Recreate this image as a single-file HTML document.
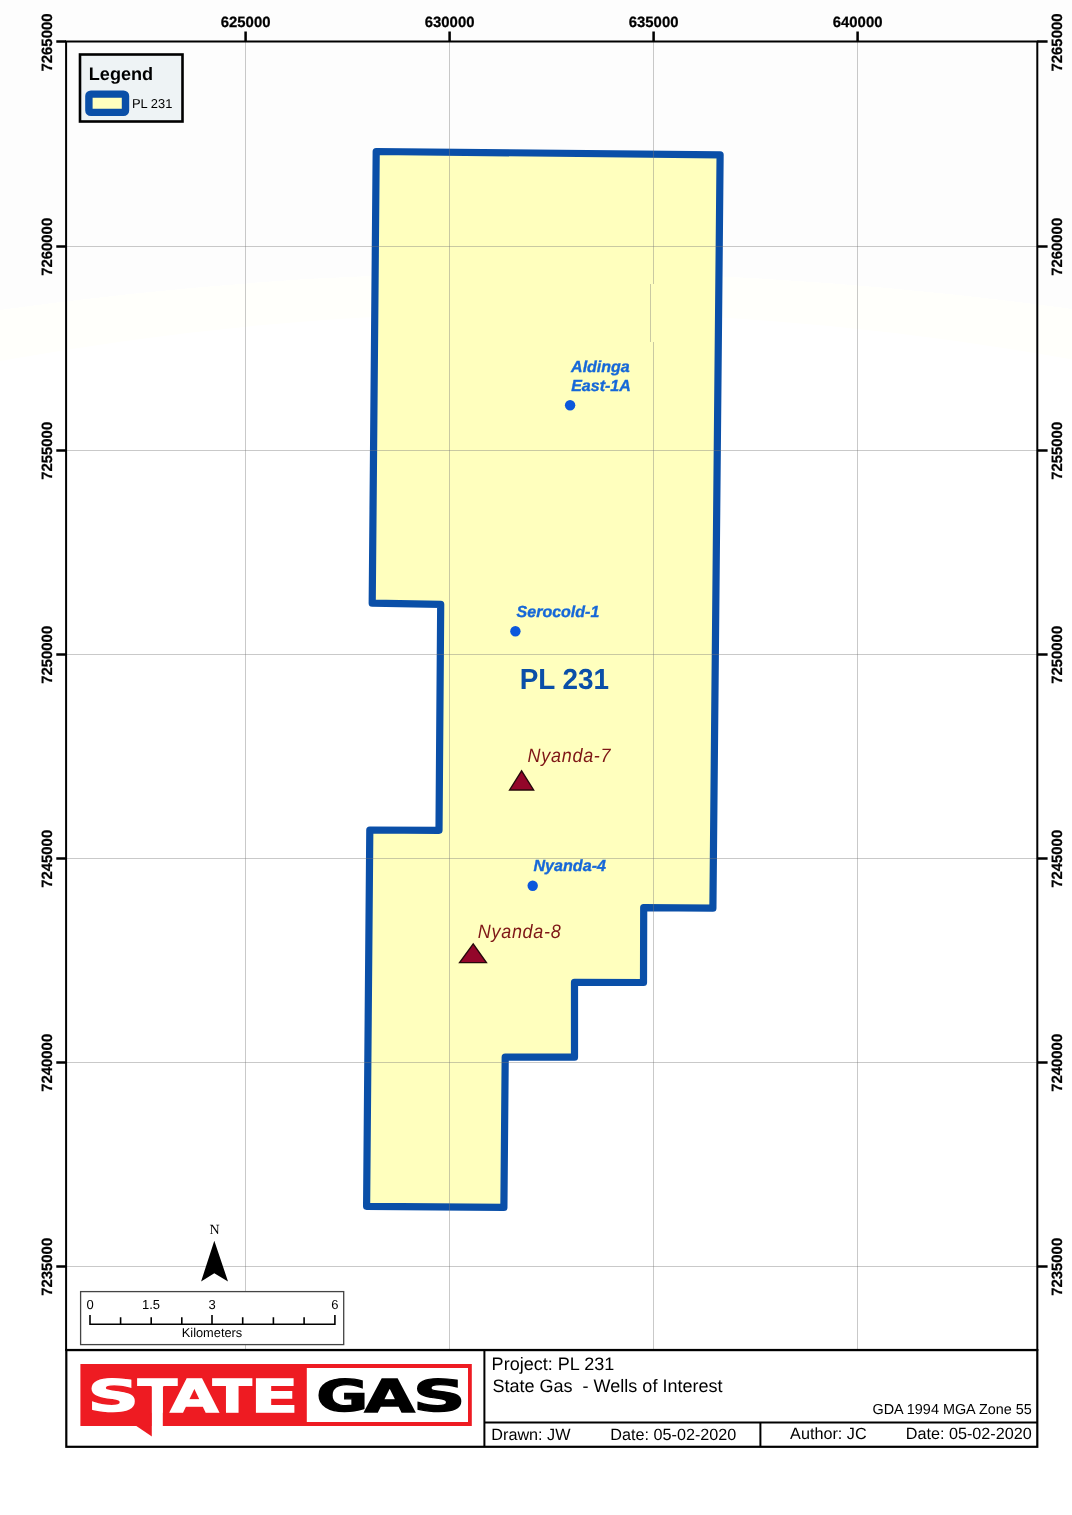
<!DOCTYPE html>
<html lang="en">
<head>
<meta charset="utf-8">
<title>PL 231 - State Gas - Wells of Interest</title>
<style>
html,body{margin:0;padding:0;background:#fff;}
body{width:1072px;height:1515px;overflow:hidden;}
svg{display:block;}
text{font-family:"Liberation Sans",Arial,Helvetica,sans-serif;text-rendering:geometricPrecision;}
.ax{font-weight:bold;stroke:#000;stroke-width:0.25px;}
.b{font-weight:bold;}
.well{font-weight:bold;font-style:italic;fill:#1668d8;stroke:#1668d8;stroke-width:0.35px;}
.nyr{font-style:italic;fill:#7e1616;}
.ser{font-family:"Liberation Serif","Times New Roman",serif;}
.lg{font-family:"DejaVu Sans","Liberation Sans",sans-serif;font-weight:bold;}
</style>
</head>
<body>
<svg width="1072" height="1515" viewBox="0 0 1072 1515">
<rect x="0" y="0" width="1072" height="1515" fill="#ffffff"/>

<!-- faint page background tint -->
<path d="M0,0 H1072 V309 Q536,235 0,310 Z" fill="#fdfdfd"/>
<path d="M0,310 Q536,235 1072,309 V359.5 Q536,264 0,361 Z" fill="#fffffb"/>
<!-- permit polygon -->
<polygon points="376.2,151.5 720.1,154.8 712.9,908.2 643.7,907.6 643.5,982.5 574.5,982.4 574.5,1057.2 505.2,1057.2 503.9,1207.4 366.6,1206.3 369.8,830 439,830.3 440.7,604.3 372.2,603.2" fill="#ffffbe" stroke="#0a4fa8" stroke-width="7.2" stroke-linejoin="round"/>
<!-- grid -->
<g stroke="#787878" stroke-opacity="0.4" stroke-width="1" fill="none" shape-rendering="crispEdges">
<line x1="245.5" y1="42" x2="245.5" y2="1349"/>
<line x1="449.5" y1="42" x2="449.5" y2="1349"/>
<path d="M653.5,42 V284 M650.5,284 V342 M653.5,342 V1349"/>
<line x1="857.5" y1="42" x2="857.5" y2="1349"/>
<line x1="67" y1="246.5" x2="1037" y2="246.5"/>
<line x1="67" y1="450.5" x2="1037" y2="450.5"/>
<line x1="67" y1="654.5" x2="1037" y2="654.5"/>
<line x1="67" y1="858.5" x2="1037" y2="858.5"/>
<line x1="67" y1="1062.5" x2="1037" y2="1062.5"/>
<line x1="67" y1="1266.5" x2="1037" y2="1266.5"/>
</g>
<!-- wells -->
<circle cx="570.1" cy="405.3" r="5.2" fill="#0c58dc"/>
<circle cx="515.4" cy="631.2" r="5.2" fill="#0c58dc"/>
<circle cx="532.7" cy="885.7" r="5.2" fill="#0c58dc"/>
<text class="well" transform="translate(571.1 372.1)" font-size="16">Aldinga</text>
<text class="well" transform="translate(571.2 390.7)" font-size="16">East-1A</text>
<text class="well" transform="translate(516.6 617)" font-size="16">Serocold-1</text>
<text class="well" transform="translate(533.5 870.8)" font-size="16.1">Nyanda-4</text>
<text class="b" transform="translate(519.7 689.4) scale(1 1.04)" font-size="27.9" style="fill:#0a4fa8">PL 231</text>
<polygon points="521.6,770.9 533.6,790 509.6,790" fill="#93062a" stroke="#26080a" stroke-width="1.4"/>
<polygon points="473.2,943.9 486.4,962.6 459.6,962.6" fill="#93062a" stroke="#26080a" stroke-width="1.4"/>
<text class="nyr" transform="translate(527.6 761.8) scale(1 1.08)" font-size="18" letter-spacing="0.7">Nyanda-7</text>
<text class="nyr" transform="translate(477.8 938.2) scale(1 1.08)" font-size="18" letter-spacing="0.7">Nyanda-8</text>
<!-- legend -->
<rect x="80" y="54.5" width="102.5" height="67" fill="#eef3f5" stroke="#000" stroke-width="2.6"/>
<text class="b" transform="translate(88.8 80)" font-size="18.1">Legend</text>
<rect x="88.9" y="94.1" width="36.6" height="18.3" rx="2" fill="#ffffbe" stroke="#0a4fa8" stroke-width="7.4" stroke-linejoin="round"/>
<text transform="translate(132 107.9)" font-size="12.9">PL 231</text>
<!-- north arrow -->
<text class="ser" transform="translate(214.5 1233.8)" font-size="14" text-anchor="middle">N</text>
<polygon points="214.3,1240.8 228,1281.4 214.3,1273.2 201.1,1281.4" fill="#000"/>
<!-- scale bar -->
<rect x="80.6" y="1291.6" width="263.1" height="53" fill="#fff" stroke="#444" stroke-width="1.3"/>
<path d="M90,1315 V1324.2 H334.9 V1315 M212,1315 V1324.2 M120.6,1317.2 V1324.2 M151.2,1317.2 V1324.2 M181.8,1317.2 V1324.2 M242.7,1317.2 V1324.2 M273.4,1317.2 V1324.2 M304.1,1317.2 V1324.2" fill="none" stroke="#000" stroke-width="1.6"/>
<text transform="translate(90 1308.8)" font-size="13" text-anchor="middle">0</text>
<text transform="translate(151 1308.8)" font-size="13" text-anchor="middle">1.5</text>
<text transform="translate(212 1308.8)" font-size="13" text-anchor="middle">3</text>
<text transform="translate(334.9 1308.8)" font-size="13" text-anchor="middle">6</text>
<text transform="translate(212 1336.5)" font-size="12.8" text-anchor="middle">Kilometers</text>
<!-- frame -->
<g fill="none" stroke="#000">
<rect x="66.1" y="41.5" width="971.2" height="1308.4" stroke-width="2"/>
<rect x="66.3" y="1350.1" width="971" height="96.7" stroke-width="2.2" fill="#fff"/>
<line x1="484.4" y1="1349.8" x2="484.4" y2="1446.8" stroke-width="2"/>
<line x1="484.6" y1="1422.6" x2="1037.3" y2="1422.6" stroke-width="2"/>
<line x1="760.4" y1="1422.6" x2="760.4" y2="1446.8" stroke-width="2"/>
</g>
<!-- ticks -->
<g stroke="#000" stroke-width="2.5" fill="none">
<path d="M245.6,31.5 V41.5 M449.6,31.5 V41.5 M653.6,31.5 V41.5 M857.6,31.5 V41.5"/>
<path d="M56.3,41.6 H66 M56.3,246.5 H66 M56.3,450.5 H66 M56.3,654.5 H66 M56.3,858.5 H66 M56.3,1062.5 H66 M56.3,1266.5 H66"/>
<path d="M1037.3,41.6 H1047.6 M1037.3,246.5 H1047.6 M1037.3,450.5 H1047.6 M1037.3,654.5 H1047.6 M1037.3,858.5 H1047.6 M1037.3,1062.5 H1047.6 M1037.3,1266.5 H1047.6"/>
</g>
<!-- axis labels -->
<text class="ax" transform="translate(245.6 27.4)" font-size="14.9" text-anchor="middle">625000</text>
<text class="ax" transform="translate(449.6 27.4)" font-size="14.9" text-anchor="middle">630000</text>
<text class="ax" transform="translate(653.6 27.4)" font-size="14.9" text-anchor="middle">635000</text>
<text class="ax" transform="translate(857.6 27.4)" font-size="14.9" text-anchor="middle">640000</text>
<text class="ax" transform="translate(51.9 42.5) rotate(-90)" font-size="14.9" text-anchor="middle">7265000</text>
<text class="ax" transform="translate(51.9 246.8) rotate(-90)" font-size="14.9" text-anchor="middle">7260000</text>
<text class="ax" transform="translate(51.9 450.8) rotate(-90)" font-size="14.9" text-anchor="middle">7255000</text>
<text class="ax" transform="translate(51.9 654.8) rotate(-90)" font-size="14.9" text-anchor="middle">7250000</text>
<text class="ax" transform="translate(51.9 858.8) rotate(-90)" font-size="14.9" text-anchor="middle">7245000</text>
<text class="ax" transform="translate(51.9 1062.8) rotate(-90)" font-size="14.9" text-anchor="middle">7240000</text>
<text class="ax" transform="translate(51.9 1266.8) rotate(-90)" font-size="14.9" text-anchor="middle">7235000</text>
<text class="ax" transform="translate(1062.1 42.5) rotate(-90)" font-size="14.9" text-anchor="middle">7265000</text>
<text class="ax" transform="translate(1062.1 246.8) rotate(-90)" font-size="14.9" text-anchor="middle">7260000</text>
<text class="ax" transform="translate(1062.1 450.8) rotate(-90)" font-size="14.9" text-anchor="middle">7255000</text>
<text class="ax" transform="translate(1062.1 654.8) rotate(-90)" font-size="14.9" text-anchor="middle">7250000</text>
<text class="ax" transform="translate(1062.1 858.8) rotate(-90)" font-size="14.9" text-anchor="middle">7245000</text>
<text class="ax" transform="translate(1062.1 1062.8) rotate(-90)" font-size="14.9" text-anchor="middle">7240000</text>
<text class="ax" transform="translate(1062.1 1266.8) rotate(-90)" font-size="14.9" text-anchor="middle">7235000</text>
<!-- logo -->
<rect x="80.4" y="1364" width="391.4" height="62" fill="#ee1b22"/>
<polygon points="135.6,1425.5 151.9,1425.5 151.9,1436.6" fill="#ee1b22"/>
<rect x="306.8" y="1368" width="161.2" height="54" fill="#fff"/>
<g stroke-linejoin="miter">
<text class="lg" transform="matrix(0.7145 0 0 0.4363 87.57 1410.98)" font-size="100" fill="#fff" stroke="#fff" stroke-width="2.87">S</text>
<text class="lg" transform="matrix(0.5775 0 0 0.4527 137.72 1411.60)" font-size="100" fill="#fff" stroke="#fff" stroke-width="3.13">T</text>
<text class="lg" transform="matrix(0.6229 0 0 0.4527 170.30 1411.60)" font-size="100" fill="#fff" stroke="#fff" stroke-width="3.01">A</text>
<text class="lg" transform="matrix(0.5715 0 0 0.4527 212.72 1411.60)" font-size="100" fill="#fff" stroke="#fff" stroke-width="3.15">T</text>
<text class="lg" transform="matrix(0.7026 0 0 0.4527 250.55 1411.60)" font-size="100" fill="#fff" stroke="#fff" stroke-width="2.84">E</text>
<text class="lg" transform="matrix(0.6339 0 0 0.4363 316.14 1410.98)" font-size="100" fill="#000" stroke="#000" stroke-width="3.04">G</text>
<text class="lg" transform="matrix(0.6504 0 0 0.4527 364.48 1411.60)" font-size="100" fill="#000" stroke="#000" stroke-width="2.95">A</text>
<text class="lg" transform="matrix(0.7354 0 0 0.4363 412.82 1410.98)" font-size="100" fill="#000" stroke="#000" stroke-width="2.82">S</text>
</g>
<rect x="149" y="1386.4" width="2.9" height="28" fill="#ee1b22"/>
<rect x="162.8" y="1386.4" width="2" height="28" fill="#ee1b22"/>
<rect x="151.9" y="1385" width="10.9" height="52" fill="#fff"/>
<!-- title block text -->
<text transform="translate(491.6 1370)" font-size="18.05">Project: PL 231</text>
<text transform="translate(492.4 1392.3)" font-size="18.05" style="white-space:pre">State Gas  - Wells of Interest</text>
<text transform="translate(1031.8 1414.4)" font-size="14.42" text-anchor="end">GDA 1994 MGA Zone 55</text>
<text transform="translate(491.3 1439.7)" font-size="16.2">Drawn: JW</text>
<text transform="translate(610.3 1439.7)" font-size="16.2">Date: 05-02-2020</text>
<text transform="translate(790.1 1438.9)" font-size="16.2">Author: JC</text>
<text transform="translate(905.7 1438.9)" font-size="16.2">Date: 05-02-2020</text>
</svg>
</body>
</html>
